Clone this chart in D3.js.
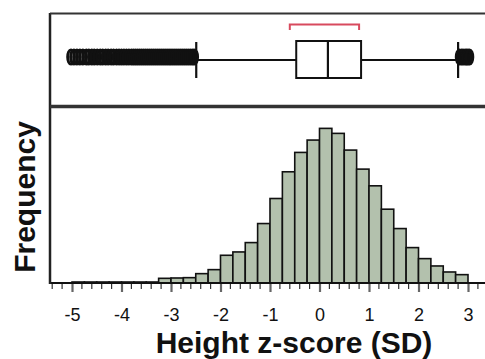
<!DOCTYPE html>
<html>
<head>
<meta charset="utf-8">
<script src="https://cdn.jsdelivr.net/npm/d3@7"></script>
<style>
  body { margin: 0; background: #fff; }
  svg { display: block; font-family: "Liberation Sans", Arial, sans-serif; }
</style>
</head>
<body>
<svg id="chart" width="485" height="359"></svg>
<script>
// histogram bins (left edge, width 0.25 SD)
const binStarts = d3.range(32).map(i => -5 + i * 0.25);
const binCounts = [3, 3, 3, 3, 3, 3, 3, 14, 15, 16, 28, 40,
  83, 93, 121, 178, 253, 333, 391, 428, 463, 448, 398, 341,
  291, 221, 163, 106, 73, 51, 33, 25];

// box plot summary
const boxStats = { lo: -2.49, q1: -0.47, median: 0.17, q3: 0.84, hi: 2.80 };
const bracket = [-0.6, 0.8];
const outliers = [-5.02, -4.96, -4.9, -4.84, -4.78, -4.71, -4.66, -4.6, -4.55, -4.49,
  -4.43, -4.38, -4.32, -4.27, -4.21, -4.16, -4.1, -4.05, -4.0, -3.95, -3.9, -3.85,
  -3.8, -3.76, -3.72, -3.68, -3.64, -3.6, -3.56, -3.52, -3.48, -3.44, -3.4, -3.36,
  -3.32, -3.28, -3.24, -3.2, -3.16, -3.12, -3.08, -3.04, -3.0, -2.96, -2.92, -2.88,
  -2.84, -2.8, -2.76, -2.72, -2.68, -2.64, -2.6, -2.56, -2.53,
  2.83, 2.87, 2.9, 2.94, 2.97, 3.0, 3.03];

const tickLabels = [-5, -4, -3, -2, -1, 0, 1, 2, 3];

const svg = d3.select("#chart");
const left = 50, baseY = 283, histTop = 107;

const x = d3.scaleLinear().domain([-5, 3]).range([72, 468]);
const y = d3.scaleLinear().domain([0, 527]).range([baseY, histTop]);

// histogram bars
svg.append("g")
  .selectAll("rect")
  .data(binStarts.map((s, i) => ({ s, c: binCounts[i] })))
  .join("rect")
  .attr("x", d => x(d.s))
  .attr("y", d => y(d.c))
  .attr("width", d => x(d.s + 0.25) - x(d.s))
  .attr("height", d => baseY - y(d.c))
  .attr("fill", "#b3c1ad")
  .attr("stroke", "#111")
  .attr("stroke-width", 1.6);

// minor + major ticks
const minor = d3.range(-5.4, 3.3, 0.2).filter(v => Math.abs(v - Math.round(v)) > 0.01);
svg.append("g")
  .selectAll("line")
  .data(minor)
  .join("line")
  .attr("x1", d => x(d)).attr("x2", d => x(d))
  .attr("y1", baseY).attr("y2", baseY + 6)
  .attr("stroke", "#333").attr("stroke-width", 1.2);

const xAxis = d3.axisBottom(x)
  .tickValues(tickLabels)
  .tickFormat(d => d < 0 ? "-" + Math.abs(d) : d)
  .tickSize(9)
  .tickPadding(16);

svg.append("g")
  .attr("transform", `translate(0,${baseY})`)
  .call(xAxis)
  .call(g => g.select(".domain").remove())
  .call(g => g.selectAll(".tick line").attr("stroke", "#666").attr("stroke-width", 2.2))
  .call(g => g.selectAll(".tick text")
    .attr("fill", "#111")
    .style("font-size", "18px"));

// axes lines
svg.append("line")
  .attr("x1", left).attr("x2", 485)
  .attr("y1", baseY).attr("y2", baseY)
  .attr("stroke", "#111").attr("stroke-width", 2);
svg.append("line")
  .attr("x1", left).attr("x2", left)
  .attr("y1", 13).attr("y2", baseY + 1)
  .attr("stroke", "#222").attr("stroke-width", 2.5);

// box panel frame
svg.append("line")
  .attr("x1", left).attr("x2", 485)
  .attr("y1", 13.5).attr("y2", 13.5)
  .attr("stroke", "#333").attr("stroke-width", 2);
svg.append("line")
  .attr("x1", left).attr("x2", 485)
  .attr("y1", 106.5).attr("y2", 106.5)
  .attr("stroke", "#333").attr("stroke-width", 3.5);

// box plot
const cy = 60, boxTop = 41, boxBot = 78;
const bp = svg.append("g").attr("stroke", "#111").attr("fill", "none");
bp.append("line")
  .attr("x1", x(boxStats.lo)).attr("x2", x(boxStats.q1))
  .attr("y1", cy).attr("y2", cy).attr("stroke-width", 1.8);
bp.append("line")
  .attr("x1", x(boxStats.q3)).attr("x2", x(boxStats.hi))
  .attr("y1", cy).attr("y2", cy).attr("stroke-width", 1.8);
[boxStats.lo, boxStats.hi].forEach(v => {
  bp.append("line")
    .attr("x1", x(v)).attr("x2", x(v))
    .attr("y1", boxTop + 1).attr("y2", boxBot)
    .attr("stroke-width", 2.2);
});
bp.append("rect")
  .attr("x", x(boxStats.q1)).attr("y", boxTop)
  .attr("width", x(boxStats.q3) - x(boxStats.q1))
  .attr("height", boxBot - boxTop)
  .attr("fill", "#fff")
  .attr("stroke-width", 2);
bp.append("line")
  .attr("x1", x(boxStats.median)).attr("x2", x(boxStats.median))
  .attr("y1", boxTop).attr("y2", boxBot)
  .attr("stroke-width", 2.2);

// outliers
svg.append("g")
  .selectAll("ellipse")
  .data(outliers)
  .join("ellipse")
  .attr("cx", d => x(d))
  .attr("cy", 57)
  .attr("rx", 3.4)
  .attr("ry", 7.2)
  .attr("fill", "none")
  .attr("stroke", "#111")
  .attr("stroke-width", 2.8);

// red bracket
svg.append("path")
  .attr("d", `M${x(bracket[0])},30 L${x(bracket[0])},24.5 L${x(bracket[1])},24.5 L${x(bracket[1])},30`)
  .attr("fill", "none")
  .attr("stroke", "#d84a5e")
  .attr("stroke-width", 2);

// axis titles
svg.append("text")
  .attr("x", 294).attr("y", 353)
  .attr("text-anchor", "middle")
  .attr("font-weight", "bold")
  .style("font-size", "30px")
  .attr("fill", "#111")
  .text("Height z-score (SD)");

svg.append("text")
  .attr("transform", "translate(35,197) rotate(-90)")
  .attr("text-anchor", "middle")
  .attr("font-weight", "bold")
  .style("font-size", "30px")
  .attr("fill", "#111")
  .text("Frequency");
</script>
</body>
</html>
